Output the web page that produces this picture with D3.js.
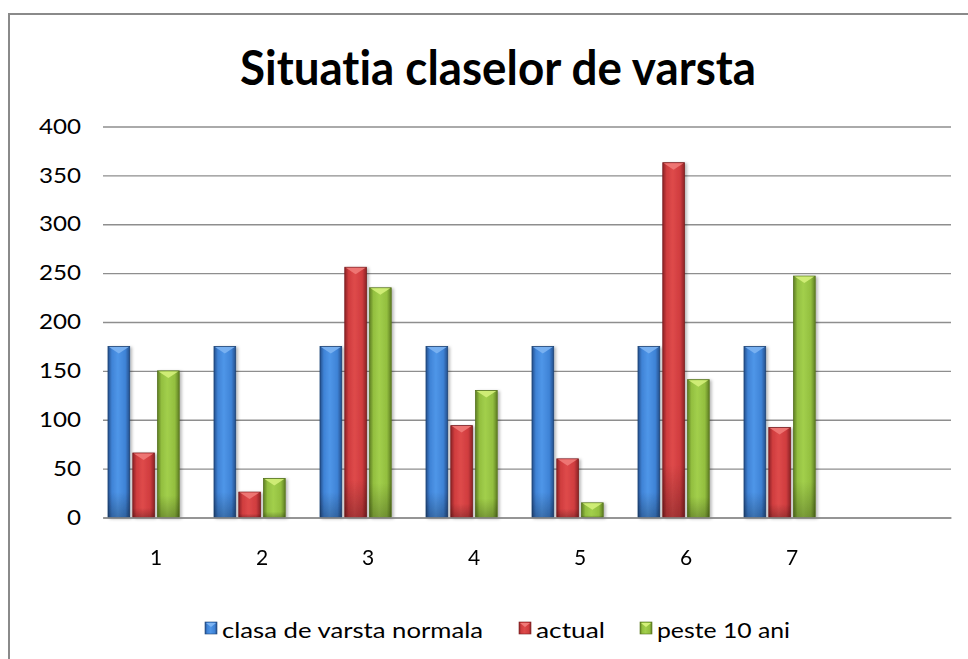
<!DOCTYPE html>
<html>
<head>
<meta charset="utf-8">
<script src="https://cdn.jsdelivr.net/npm/d3@7"></script>
<style>
  html, body { margin: 0; padding: 0; background: #fff; }
  svg { display: block; }
  text { font-family: Lato, "Open Sans", sans-serif; fill: #000; font-variant-ligatures: none; font-feature-settings: "liga" 0, "clig" 0; }
</style>
</head>
<body>
<script>
// ---- data ----
const categories = ["1", "2", "3", "4", "5", "6", "7", ""];
const seriesNames = ["clasa de varsta normala", "actual", "peste 10 ani"];
const normala = [175, 175, 175, 175, 175, 175, 175];
const actual = [66, 26, 256, 94, 60, 363, 92];
const peste10 = [150, 40, 235, 130, 15, 141, 247];
const yTicks = [0, 50, 100, 150, 200, 250, 300, 350, 400];
const titleText = "Situatia claselor de varsta";

const W = 968, H = 659;
const svg = d3.select("body").append("svg").attr("width", W).attr("height", H);
const defs = svg.append("defs");

const palettes = [
  { edge: "#254f8c", mid: "#3f83d6", light: "#4f96e8", top: "#7db4f2", stroke: "#1f4577" },
  { edge: "#8e2426", mid: "#d03d3f", light: "#de4a4a", top: "#f07a78", stroke: "#7a1e20" },
  { edge: "#5f7f22", mid: "#93bf3f", light: "#a2cf4c", top: "#d4f07a", stroke: "#56731d" }
];
palettes.forEach((p, i) => {
  const g = defs.append("linearGradient").attr("id", "g" + i)
    .attr("x1", "0").attr("x2", "1").attr("y1", "0").attr("y2", "0");
  g.append("stop").attr("offset", "0").attr("stop-color", p.edge);
  g.append("stop").attr("offset", "0.18").attr("stop-color", p.mid);
  g.append("stop").attr("offset", "0.45").attr("stop-color", p.light);
  g.append("stop").attr("offset", "0.8").attr("stop-color", p.mid);
  g.append("stop").attr("offset", "1").attr("stop-color", p.edge);
  const v = defs.append("linearGradient").attr("id", "v" + i)
    .attr("x1", "0").attr("x2", "0").attr("y1", "0").attr("y2", "1");
  v.append("stop").attr("offset", "0").attr("stop-color", "#fff").attr("stop-opacity", 0);
  v.append("stop").attr("offset", "0.85").attr("stop-color", "#000").attr("stop-opacity", 0);
  v.append("stop").attr("offset", "1").attr("stop-color", "#000").attr("stop-opacity", 0.25);
});
const sh = defs.append("filter").attr("id", "shadow")
  .attr("x", "-20%").attr("y", "-5%").attr("width", "160%").attr("height", "115%");
sh.append("feDropShadow").attr("dx", 2).attr("dy", 1).attr("stdDeviation", 1.6)
  .attr("flood-color", "#000").attr("flood-opacity", 0.28);

// stretch helper: widen glyphs horizontally like the reference rendering
function stretch(sel, f) {
  sel.each(function () {
    const len = this.getComputedTextLength();
    if (len > 0) d3.select(this).attr("textLength", len * f).attr("lengthAdjust", "spacingAndGlyphs");
  });
}

// frame
svg.append("path").attr("d", `M9,${H} V14 H${W}`)
  .attr("fill", "none").attr("stroke", "#8a8a8a").attr("stroke-width", 2);

// title
svg.append("text").attr("x", 498).attr("y", 85).attr("text-anchor", "middle")
  .style("font-size", "47px").style("font-weight", "bold")
  .attr("textLength", 516).attr("lengthAdjust", "spacingAndGlyphs")
  .text(titleText);

// scales
const x = d3.scaleBand().domain(categories).range([103, 951]).padding(0);
const slots = d3.scaleBand().domain([0, 1, 2, 3]).range([5, 101]).paddingInner(0.125);
const y = d3.scaleLinear().domain([0, 400]).range([517.5, 126.5]);

// gridlines via axis
const grid = svg.append("g").attr("transform", "translate(103,0)")
  .call(d3.axisRight(y).tickValues(yTicks).tickSize(848).tickFormat(""));
grid.select(".domain").remove();
grid.selectAll("line").attr("stroke", "#8e8e8e").attr("stroke-width", 1.3);

// y axis labels
const yAxis = svg.append("g").attr("transform", "translate(103,0)")
  .call(d3.axisLeft(y).tickValues(yTicks).tickSize(0).tickPadding(22));
yAxis.select(".domain").remove();
yAxis.selectAll("text").style("font-size", "21px").style("font-family", "Lato, sans-serif").attr("fill", "#000");
stretch(yAxis.selectAll("text"), 1.15);

// bars
const all = [normala, actual, peste10];
all.forEach((vals, si) => {
  const p = palettes[si];
  const g = svg.append("g").attr("filter", "url(#shadow)");
  const bars = g.selectAll("g.bar").data(vals.map((v, i) => ({ v, c: categories[i] })))
    .enter().append("g").attr("class", "bar");
  bars.append("rect")
    .attr("x", d => x(d.c) + slots(si)).attr("y", d => y(d.v))
    .attr("width", slots.bandwidth()).attr("height", d => y(0) - y(d.v))
    .attr("fill", `url(#g${si})`).attr("stroke", p.stroke).attr("stroke-width", 0.8);
  bars.append("rect")
    .attr("x", d => x(d.c) + slots(si)).attr("y", d => y(d.v))
    .attr("width", slots.bandwidth()).attr("height", d => y(0) - y(d.v))
    .attr("fill", `url(#v${si})`);
  const bw = slots.bandwidth();
  bars.append("path")
    .attr("d", d => {
      const x0 = x(d.c) + slots(si), y0 = y(d.v);
      return `M${x0 + 1},${y0 + 0.5} L${x0 + bw - 1},${y0 + 0.5} L${x0 + bw / 2},${y0 + 7} Z`;
    })
    .attr("fill", p.top).attr("opacity", 0.9);
});

// x axis
const xAxis = svg.append("g").attr("transform", `translate(0,${y(0)})`)
  .call(d3.axisBottom(x).tickSize(0).tickPadding(33));
xAxis.select(".domain").attr("stroke", "#8e8e8e").attr("stroke-width", 1.3);
xAxis.selectAll("text").style("font-size", "21px").style("font-family", "Lato, sans-serif").attr("fill", "#000");

// legend
const legendX = [205, 519, 640];
const legendLen = [261, 69, 133];
const lg = svg.append("g");
seriesNames.forEach((n, i) => {
  const p = palettes[i];
  const it = lg.append("g").attr("transform", `translate(${legendX[i]},622)`);
  it.append("rect").attr("width", 12).attr("height", 12)
    .attr("fill", `url(#g${i})`).attr("stroke", p.stroke).attr("stroke-width", 0.6);
  it.append("path").attr("d", "M1,1 L11,1 L6,5 Z").attr("fill", p.top);
  it.append("text").attr("x", 17).attr("y", 16).style("font-size", "21px")
    .attr("textLength", legendLen[i]).attr("lengthAdjust", "spacingAndGlyphs").text(n);
});
</script>
</body>
</html>
